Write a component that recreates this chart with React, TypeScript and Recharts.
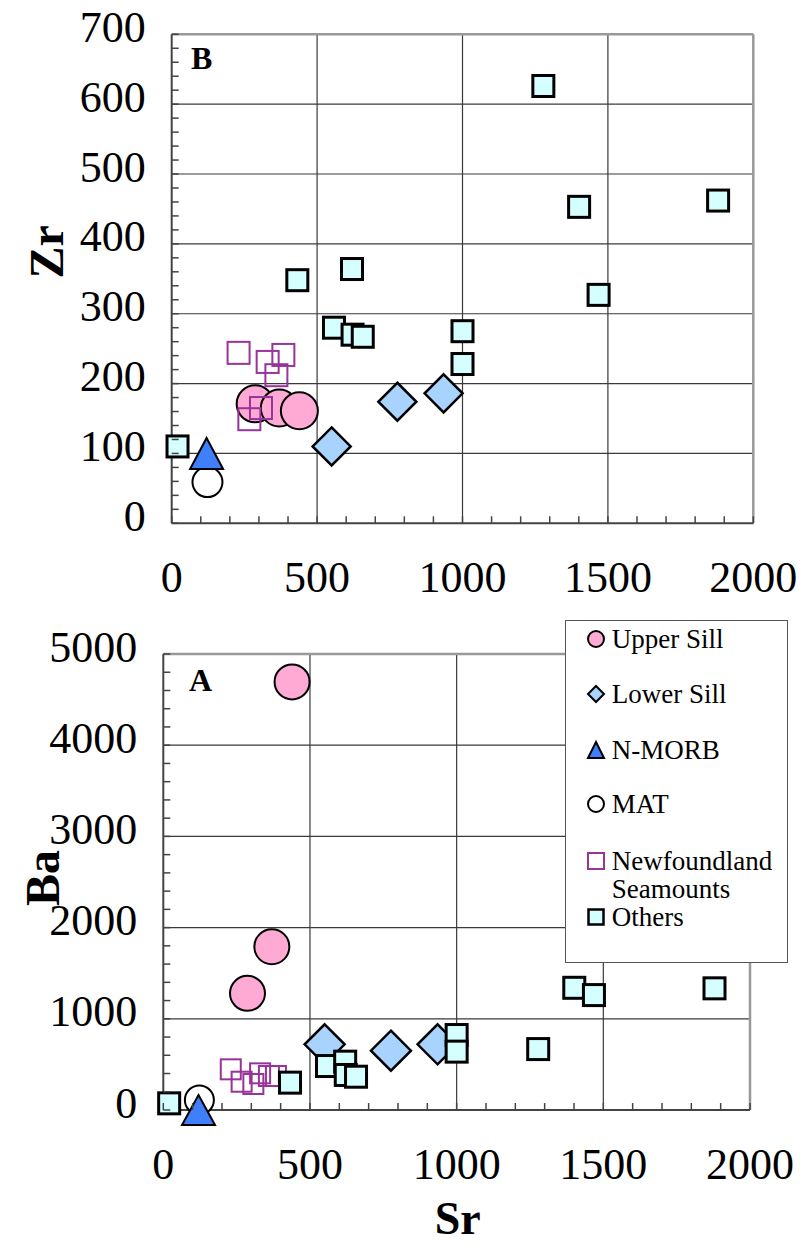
import React from 'react';
import { ScatterChart, Scatter, XAxis, YAxis, ReferenceLine, Legend } from 'recharts';

const FONT = 'Liberation Serif';

// Sr shared by both panels, one array per sample group
const upperSillSr = [287, 370, 439];
const lowerSillSr = [550, 776, 935];
const nMorbSr = [120];
const matSr = [123];
const newfoundlandSr = [230, 267, 307, 330, 360, 384];
const othersSr = [20, 432, 558, 620, 622, 657, 1000, 1000, 1278, 1401, 1468, 1879];

// Panel B: Zr
const upperSillZr = [171, 165, 161];
const lowerSillZr = [110, 174, 186];
const nMorbZr = [100];
const matZr = [59];
const newfoundlandZr = [244, 149, 165, 231, 212, 241];
const othersZr = [110, 348, 280, 364, 270, 267, 275, 228, 626, 453, 327, 462];

// Panel A: Ba
const upperSillBa = [1279, 1790, 4694];
const lowerSillBa = [720, 650, 720];
const nMorbBa = [0];
const matBa = [110];
const newfoundlandBa = [446, 310, 285, 402, 373, 373];
const othersBa = [73, 300, 482, 530, 384, 365, 822, 640, 668, 1340, 1260, 1334];

const legendNames = ['Upper Sill', 'Lower Sill', 'N-MORB', 'MAT', 'Newfoundland Seamounts', 'Others'];

const srTicks = [0, 100, 200, 300, 400, 500, 600, 700, 800, 900, 1000, 1100, 1200, 1300, 1400, 1500, 1600, 1700, 1800, 1900, 2000];
const zrTicks = Array.from({ length: 36 }, (_, i) => i * 20);
const baTicks = Array.from({ length: 26 }, (_, i) => i * 200);
const srGrid = [500, 1000, 1500];
const zrGrid = [100, 200, 300, 400, 500, 600];
const baGrid = [1000, 2000, 3000, 4000];

const COLORS = {
  upper: '#ffaad4',
  lower: '#a8d3ff',
  nmorb: '#3f7ffb',
  others: '#d5ffff',
  newf: '#993399',
};

const zip = (sr: number[], v: number[], key: string) => sr.map((s, i) => ({ sr: s, [key]: v[i] }));

// marker shapes
const circleShape = (r: number, fill: string) => (p: any) => (
  <circle cx={p.cx} cy={p.cy} r={r} fill={fill} stroke="#000" strokeWidth={2} />
);
const diamondShape = (h: number) => (p: any) => (
  <path
    d={`M${p.cx},${p.cy - h}L${p.cx + h},${p.cy}L${p.cx},${p.cy + h}L${p.cx - h},${p.cy}Z`}
    fill={COLORS.lower}
    stroke="#000"
    strokeWidth={2.5}
  />
);
const triangleShape = (w: number, h: number) => (p: any) => (
  <path
    d={`M${p.cx},${p.cy - h / 2}L${p.cx + w / 2},${p.cy + h / 2}L${p.cx - w / 2},${p.cy + h / 2}Z`}
    fill={COLORS.nmorb}
    stroke="#000"
    strokeWidth={2}
  />
);
const squareShape = (s: number, fill: string, stroke: string, sw: number) => (p: any) => (
  <rect x={p.cx - s / 2} y={p.cy - s / 2} width={s} height={s} fill={fill} stroke={stroke} strokeWidth={sw} />
);

const makeXTick = () => (props: any) => {
  const { x, y, payload } = props;
  const v = payload.value;
  return (
    <g>
      <line x1={x} y1={y} x2={x} y2={y - 7} stroke="#444" strokeWidth={1.5} />
      {v % 500 === 0 && (
        <text x={x} y={y + 54} textAnchor="middle" dominantBaseline="central" fontSize={44} fontFamily={FONT} fill="#000">
          {v}
        </text>
      )}
    </g>
  );
};

const makeYTick = (major: number) => (props: any) => {
  const { x, y, payload } = props;
  const v = payload.value;
  return (
    <g>
      <line x1={x} y1={y} x2={x + 7} y2={y} stroke="#444" strokeWidth={1.5} />
      {v % major === 0 && (
        <text x={x - 26} y={y - 7} textAnchor="end" dominantBaseline="central" fontSize={44} fontFamily={FONT} fill="#000">
          {v}
        </text>
      )}
    </g>
  );
};

const yTitle = (text: string, dx: number, dy: number) => (props: any) => {
  const vb = props.viewBox;
  const x = vb.x + dx;
  const y = vb.y + vb.height / 2 + dy;
  return (
    <text x={x} y={y} transform={`rotate(-90, ${x}, ${y})`} textAnchor="middle" dominantBaseline="central" fontSize={48} fontWeight="bold" fontFamily={FONT} fill="#000">
      {text}
    </text>
  );
};

const xTitle = (text: string, dy: number) => (props: any) => {
  const vb = props.viewBox;
  return (
    <text x={vb.x + vb.width / 2 + 1} y={vb.y + dy} textAnchor="middle" dominantBaseline="central" fontSize={46} fontWeight="bold" fontFamily={FONT} fill="#000">
      {text}
    </text>
  );
};

const gridLines = (xs: number[], ys: number[]) => [
  ...xs.map((v) => <ReferenceLine key={`gx${v}`} x={v} stroke="#3a3a3a" strokeWidth={1.2} />),
  ...ys.map((v) => <ReferenceLine key={`gy${v}`} y={v} stroke="#3a3a3a" strokeWidth={1.2} />),
];

function LegendBox() {
  const markers = [
    <circle cx={9} cy={9} r={8} fill={COLORS.upper} stroke="#000" strokeWidth={2} />,
    <path d="M9,1L17,9L9,17L1,9Z" fill={COLORS.lower} stroke="#000" strokeWidth={2} />,
    <path d="M9,1L17,17L1,17Z" fill={COLORS.nmorb} stroke="#000" strokeWidth={2} />,
    <circle cx={9} cy={9} r={8} fill="#fff" stroke="#000" strokeWidth={2} />,
    <rect x={1} y={1} width={16} height={16} fill="none" stroke={COLORS.newf} strokeWidth={2} />,
    <rect x={1.5} y={1.5} width={15} height={15} fill={COLORS.others} stroke="#000" strokeWidth={2.5} />,
  ];
  const rowsY = [18, 73, 129, 183, 240, 296];
  return (
    <div
      style={{
        width: 223,
        height: 343,
        boxSizing: 'border-box',
        border: '1.5px solid #555',
        background: '#fff',
        position: 'relative',
        fontFamily: FONT,
        fontSize: 27,
        color: '#000',
      }}
    >
      {legendNames.map((name, i) => (
        <div key={name} style={{ position: 'absolute', left: 21, top: rowsY[i] - 9 }}>
          <svg width={18} height={18} style={{ position: 'absolute', left: 0, top: 0, overflow: 'visible' }}>
            {markers[i]}
          </svg>
          <div style={{ position: 'absolute', left: 25, top: -5, lineHeight: '28px', whiteSpace: 'nowrap' }}>
            {name === 'Newfoundland Seamounts' ? (
              <>
                Newfoundland
                <br />
                Seamounts
              </>
            ) : (
              name
            )}
          </div>
        </div>
      ))}
    </div>
  );
}

function PanelB() {
  return (
    <ScatterChart width={804} height={610} margin={{ top: 34.3, right: 50.7, bottom: 26.7, left: 111.7 }}>
      {gridLines(srGrid, zrGrid)}
      <ReferenceLine y={700} stroke="#999" strokeWidth={2.5} />
      <ReferenceLine x={2000} stroke="#999" strokeWidth={2.5} />
      <XAxis
        type="number"
        dataKey="sr"
        domain={[0, 2000]}
        ticks={srTicks}
        height={60}
        tickSize={0}
        tickMargin={0}
        tickLine={false}
        axisLine={{ stroke: '#444', strokeWidth: 2 }}
        tick={makeXTick()}
        interval={0}
      />
      <YAxis
        type="number"
        dataKey="zr"
        domain={[0, 700]}
        ticks={zrTicks}
        width={60}
        tickSize={0}
        tickMargin={0}
        tickLine={false}
        axisLine={{ stroke: '#444', strokeWidth: 2 }}
        tick={makeYTick(100)}
        interval={0}
        label={{ value: 'Zr', content: yTitle('Zr', -65, -27) }}
      />
      <Scatter name="MAT" data={zip(matSr, matZr, 'zr')} shape={circleShape(15, '#fff')} isAnimationActive={false} />
      <Scatter name="Upper Sill" data={zip(upperSillSr, upperSillZr, 'zr')} shape={circleShape(18.5, COLORS.upper)} isAnimationActive={false} />
      <Scatter name="Lower Sill" data={zip(lowerSillSr, lowerSillZr, 'zr')} shape={diamondShape(19)} isAnimationActive={false} />
      <Scatter name="N-MORB" data={zip(nMorbSr, nMorbZr, 'zr')} shape={triangleShape(33, 31)} isAnimationActive={false} />
      <Scatter name="Newfoundland Seamounts" data={zip(newfoundlandSr, newfoundlandZr, 'zr')} shape={squareShape(22, 'none', COLORS.newf, 2)} isAnimationActive={false} />
      <Scatter name="Others" data={zip(othersSr, othersZr, 'zr')} shape={squareShape(21, COLORS.others, '#000', 3)} isAnimationActive={false} />
    </ScatterChart>
  );
}

function PanelA() {
  return (
    <ScatterChart width={804} height={644} margin={{ top: 54, right: 54, bottom: 74, left: 103.3 }}>
      {gridLines(srGrid, baGrid)}
      <ReferenceLine y={5000} stroke="#999" strokeWidth={2.5} />
      <ReferenceLine x={2000} stroke="#999" strokeWidth={2.5} />
      <XAxis
        type="number"
        dataKey="sr"
        domain={[0, 2000]}
        ticks={srTicks}
        height={60}
        tickSize={0}
        tickMargin={0}
        tickLine={false}
        axisLine={{ stroke: '#444', strokeWidth: 2 }}
        tick={makeXTick()}
        interval={0}
        label={{ value: 'Sr', content: xTitle('Sr', 108.5) }}
      />
      <YAxis
        type="number"
        dataKey="ba"
        domain={[0, 5000]}
        ticks={baTicks}
        width={60}
        tickSize={0}
        tickMargin={0}
        tickLine={false}
        axisLine={{ stroke: '#444', strokeWidth: 2 }}
        tick={makeYTick(1000)}
        interval={0}
        label={{ value: 'Ba', content: yTitle('Ba', -61, -4) }}
      />
      <Scatter name="MAT" data={zip(matSr, matBa, 'ba')} shape={circleShape(14.5, '#fff')} isAnimationActive={false} />
      <Scatter name="Upper Sill" data={zip(upperSillSr, upperSillBa, 'ba')} shape={circleShape(17.5, COLORS.upper)} isAnimationActive={false} />
      <Scatter name="Lower Sill" data={zip(lowerSillSr, lowerSillBa, 'ba')} shape={diamondShape(20)} isAnimationActive={false} />
      <Scatter name="N-MORB" data={zip(nMorbSr, nMorbBa, 'ba')} shape={triangleShape(33, 30)} isAnimationActive={false} />
      <Scatter name="Newfoundland Seamounts" data={zip(newfoundlandSr, newfoundlandBa, 'ba')} shape={squareShape(20, 'none', COLORS.newf, 2)} isAnimationActive={false} />
      <Scatter name="Others" data={zip(othersSr, othersBa, 'ba')} shape={squareShape(21, COLORS.others, '#000', 3)} isAnimationActive={false} />
      <Legend
        layout="vertical"
        align="center"
        verticalAlign="middle"
        wrapperStyle={{ left: 564.7, top: 20, width: 223, height: 343 }}
        content={() => <LegendBox />}
      />
    </ScatterChart>
  );
}

const panelLetter = (text: string, left: number, top: number) => (
  <div
    style={{
      position: 'absolute',
      left,
      top,
      fontFamily: FONT,
      fontSize: 32,
      fontWeight: 'bold',
      lineHeight: '32px',
      color: '#000',
    }}
  >
    {text}
  </div>
);

export default function App() {
  return (
    <div style={{ position: 'absolute', left: 0, top: 0, width: 804, height: 1244, background: '#fff', overflow: 'hidden' }}>
      <div style={{ position: 'absolute', left: 0, top: 0 }}>
        <PanelB />
      </div>
      <div style={{ position: 'absolute', left: 0, top: 600 }}>
        <PanelA />
      </div>
      {panelLetter('B', 191, 42)}
      {panelLetter('A', 189, 664)}
    </div>
  );
}
